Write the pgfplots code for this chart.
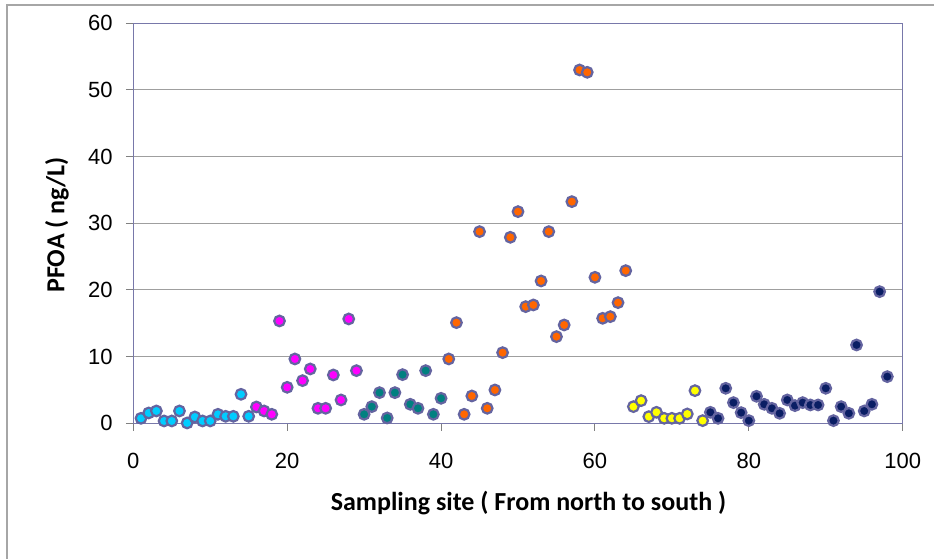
\documentclass[border=0pt]{standalone}
\usepackage{fontspec}
\setmainfont{Liberation Sans}
\newfontfamily\titlefont{Carlito}
\usepackage{pgfplots}
\usepackage{pgfplotstable}
\pgfplotsset{compat=1.18}

\definecolor{cyanpt}{RGB}{0,204,255}
\definecolor{magpt}{RGB}{255,0,255}
\definecolor{tealpt}{RGB}{0,128,128}
\definecolor{orangept}{RGB}{255,102,0}
\definecolor{yellowpt}{RGB}{255,255,0}
\definecolor{navypt}{RGB}{10,30,100}
\definecolor{edgept}{RGB}{100,100,160}
\definecolor{axiscol}{RGB}{120,120,170}

% site  PFOA (ng/L)
\pgfplotstableread{
x y
1 0.75
2 1.55
3 1.85
4 0.35
5 0.35
6 1.85
7 0.05
8 0.95
9 0.35
10 0.35
11 1.35
12 1.05
13 1.05
14 4.35
15 1.05
}\cyandata
\pgfplotstableread{
x y
16 2.45
17 1.85
18 1.35
19 15.35
20 5.4
21 9.65
22 6.4
23 8.15
24 2.25
25 2.25
26 7.25
27 3.5
28 15.65
29 7.9
}\magdata
\pgfplotstableread{
x y
30 1.35
31 2.5
32 4.6
33 0.8
34 4.6
35 7.3
36 2.85
37 2.25
38 7.9
39 1.35
40 3.75
}\tealdata
\pgfplotstableread{
x y
41 9.65
42 15.1
43 1.35
44 4.1
45 28.75
46 2.25
47 5.0
48 10.6
49 27.9
50 31.75
51 17.5
52 17.75
53 21.35
54 28.75
55 13.0
56 14.75
57 33.25
58 53.0
59 52.65
60 21.9
61 15.75
62 16.0
63 18.1
64 22.9
}\orangedata
\pgfplotstableread{
x y
65 2.5
66 3.4
67 1.0
68 1.65
69 0.75
70 0.75
71 0.75
72 1.4
73 4.9
74 0.4
}\yellowdata
\pgfplotstableread{
x y
75 1.65
76 0.75
77 5.25
78 3.1
79 1.6
80 0.4
81 4.05
82 2.85
83 2.25
84 1.5
85 3.5
86 2.65
87 3.1
88 2.75
89 2.75
90 5.25
91 0.4
92 2.5
93 1.5
94 11.75
95 1.85
96 2.85
97 19.75
98 7.0
}\navydata

\pgfplotsset{site/.style={only marks, mark=*, mark size=5.3bp,
    mark options={draw=edgept, line width=2.2bp, fill=#1}}}

\begin{document}
\begin{tikzpicture}
\useasboundingbox (0,0) rectangle (934bp,559bp);
\draw[gray!70, line width=1.5bp] (7bp,0) -- (7bp,554bp) -- (934bp,554bp);
\begin{axis}[
    at={(133.3bp,135.7bp)}, anchor=south west,
    scale only axis, width=769.4bp, height=400bp,
    xmin=0, xmax=100, ymin=0, ymax=60,
    xtick={0,20,...,100}, ytick={0,10,...,60},
    xtick pos=bottom, ytick pos=left,
    tick align=outside, major tick length=7.5bp,
    tick style={gray, line width=1bp},
    ymajorgrids, grid style={gray!75, line width=1bp},
    axis line style={axiscol, line width=1.5bp},
    /pgf/number format/assume math mode=true,
    tick label style={font=\fontsize{22bp}{26bp}\selectfont, inner sep=0pt},
    xticklabel shift=21.7bp, yticklabel shift=13.1bp,
    xlabel={\titlefont\bfseries Sampling site ( From north to south )},
    ylabel={\titlefont\bfseries PFOA ( ng/L)},
    label style={font=\fontsize{26bp}{30bp}\selectfont},
    xlabel style={at={(axis description cs:0.5136,-0.199)}, anchor=center},
    ylabel style={at={(axis description cs:-0.0992,0.496)}, anchor=center, rotate=0},
]
\addplot[site=cyanpt] table {\cyandata};
\addplot[site=magpt] table {\magdata};
\addplot[site=tealpt] table {\tealdata};
\addplot[site=orangept] table {\orangedata};
\addplot[site=yellowpt] table {\yellowdata};
\addplot[site=navypt] table {\navydata};
\end{axis}
\end{tikzpicture}
\end{document}
